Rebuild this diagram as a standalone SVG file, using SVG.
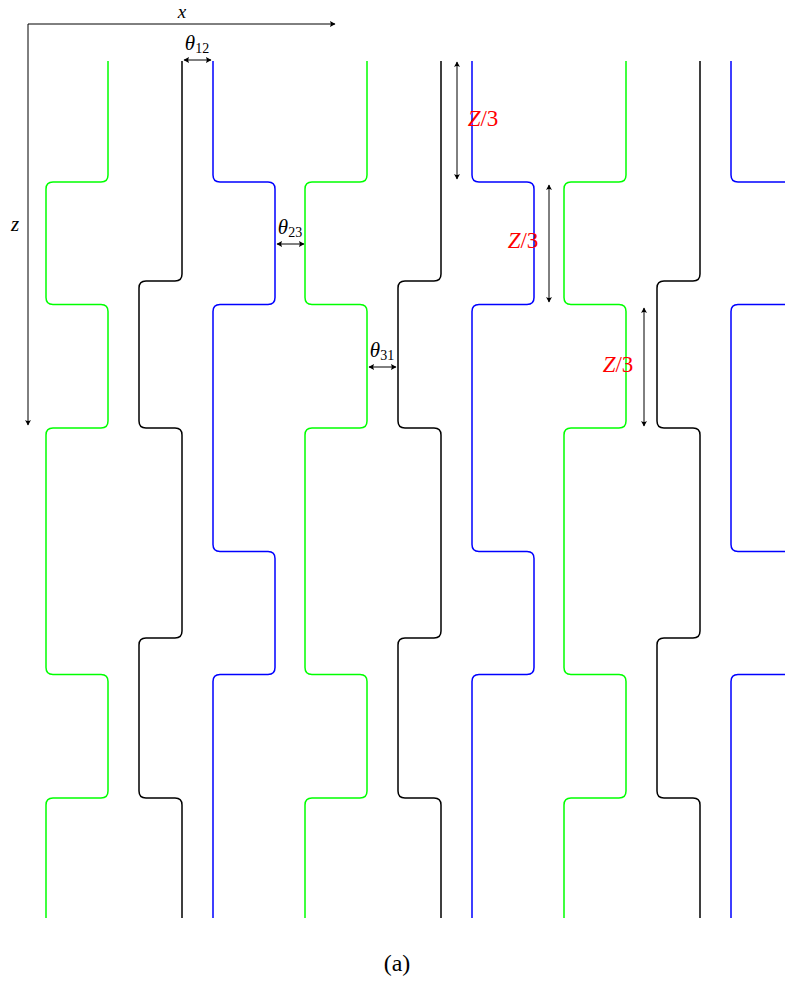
<svg xmlns="http://www.w3.org/2000/svg" xmlns:xlink="http://www.w3.org/1999/xlink" width="785" height="981" viewBox="0 0 785 981">
<style>
.w{fill:none;stroke-width:1.5;stroke-linejoin:round}
.g{stroke:#00ff00}
.k{stroke:#000000}
.b{stroke:#0000ff}
.ax{fill:none;stroke:#000;stroke-width:1}
.dim{fill:none;stroke:#000;stroke-width:1}
text{font-family:"Liberation Serif","Times New Roman",serif;font-size:21px;fill:#000}
.it{font-style:italic}
.red{fill:#ff0000;font-size:23px}
.sub{font-size:14px}
</style>
<defs>
<marker id="tip" viewBox="-6 -4 7 8" refX="0" refY="0" markerWidth="7" markerHeight="8" markerUnits="userSpaceOnUse" orient="auto-start-reverse">
<path d="M0.5,0 L-5,-3 Q-3.2,0 -5,3 Z" fill="#000"/>
</marker>
<path id="green" class="w g" d="M108,61 V175 Q108,182 101,182 H53 Q46,182 46,189 V297.5 Q46,304.5 53,304.5 H101 Q108,304.5 108,311.5 V421 Q108,428 101,428 H53 Q46,428 46,435 V667.5 Q46,674.5 53,674.5 H101 Q108,674.5 108,681.5 V791 Q108,798 101,798 H53 Q46,798 46,805 V918"/>
<path id="black" class="w k" d="M182,61 V274 Q182,281 175,281 H146 Q139,281 139,288 V421 Q139,428 146,428 H175 Q182,428 182,435 V631 Q182,638 175,638 H146 Q139,638 139,645 V791 Q139,798 146,798 H175 Q182,798 182,805 V918"/>
<path id="blue" class="w b" d="M213,61 V175 Q213,182 220,182 H268 Q275,182 275,189 V297.5 Q275,304.5 268,304.5 H220 Q213,304.5 213,311.5 V544.5 Q213,551.5 220,551.5 H268 Q275,551.5 275,558.5 V667.5 Q275,674.5 268,674.5 H220 Q213,674.5 213,681.5 V918"/>
</defs>

<g id="axes">
<path class="ax" d="M28,24 H335" marker-end="url(#tip)"/>
<path class="ax" d="M28,24 V425" marker-end="url(#tip)"/>
<text class="it" x="182" y="18" text-anchor="middle" style="font-size:19px">x</text>
<text class="it" x="15" y="231" text-anchor="middle">z</text>
</g>

<g id="wires-1">
<use xlink:href="#green"/>
<use xlink:href="#black"/>
<use xlink:href="#blue"/>
</g>
<g id="wires-2" transform="translate(259,0)">
<use xlink:href="#green"/>
<use xlink:href="#black"/>
<use xlink:href="#blue"/>
</g>
<g id="wires-3" transform="translate(518,0)">
<use xlink:href="#green"/>
<use xlink:href="#black"/>
<use xlink:href="#blue"/>
</g>

<g id="connectors">
<path class="dim" d="M184,60 H211" marker-start="url(#tip)" marker-end="url(#tip)"/>
<path class="dim" d="M277,244 H304" marker-start="url(#tip)" marker-end="url(#tip)"/>
<path class="dim" d="M369,367 H396" marker-start="url(#tip)" marker-end="url(#tip)"/>
<path class="dim" d="M457,62 V179" marker-start="url(#tip)" marker-end="url(#tip)"/>
<path class="dim" d="M549,185 V302" marker-start="url(#tip)" marker-end="url(#tip)"/>
<path class="dim" d="M644,308 V426" marker-start="url(#tip)" marker-end="url(#tip)"/>
</g>

<g id="labels">
<text x="197" y="50" text-anchor="middle"><tspan class="it">θ</tspan><tspan class="sub" dy="3">12</tspan></text>
<text x="290" y="234" text-anchor="middle"><tspan class="it">θ</tspan><tspan class="sub" dy="3">23</tspan></text>
<text x="382" y="357" text-anchor="middle"><tspan class="it">θ</tspan><tspan class="sub" dy="3">31</tspan></text>
<text class="red" x="483" y="126" text-anchor="middle"><tspan class="it">Z</tspan>/3</text>
<text class="red" x="523" y="248" text-anchor="middle"><tspan class="it">Z</tspan>/3</text>
<text class="red" x="618" y="372" text-anchor="middle"><tspan class="it">Z</tspan>/3</text>
<text x="397" y="971" text-anchor="middle" style="font-size:24px">(a)</text>
</g>
</svg>
